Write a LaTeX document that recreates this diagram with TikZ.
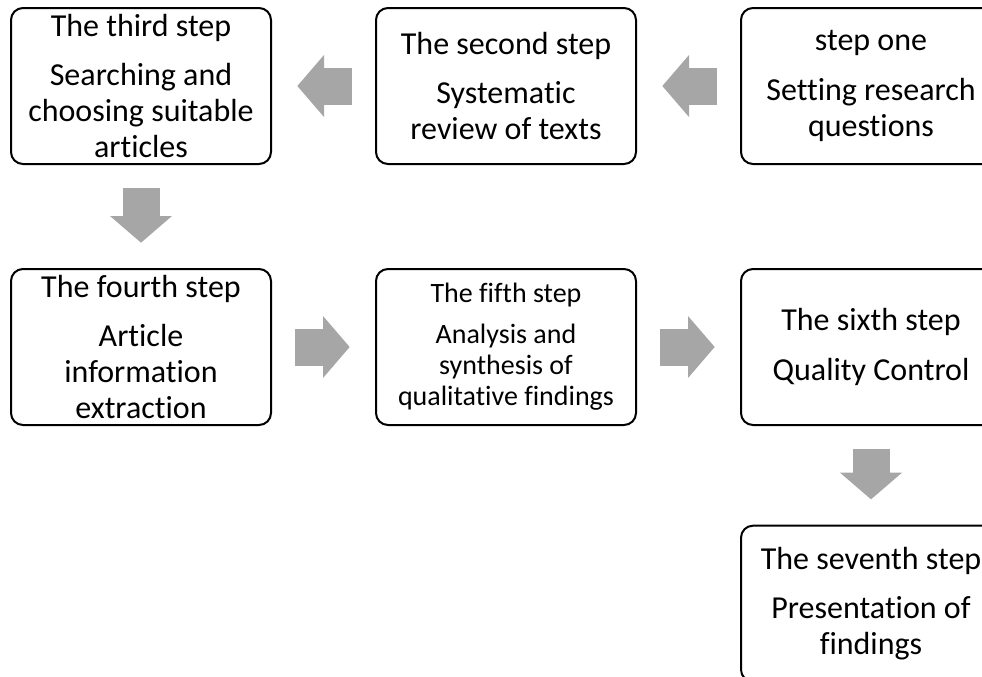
\documentclass[tikz,border=0pt]{standalone}
\usepackage{fontspec}
\setmainfont{Carlito}[Ligatures=CommonOff]
\usepackage{tikz}
\usetikzlibrary{arrows.meta,positioning}

\begin{document}
\begin{tikzpicture}[
  node distance=77.25pt,
  stepbox/.style={draw, line width=1.5pt, rounded corners=9pt, minimum width=195pt,
                  minimum height=117pt, align=center, inner sep=0pt,
                  font=\fontsize{24}{27}\selectfont},
  flow/.style={draw=black!35, line width=27.75pt, shorten <=17pt, shorten >=19pt,
               -{Triangle[length=20pt, width=46.5pt, line width=0pt]}},
]
\useasboundingbox (0,0) rectangle (736.5pt,-507pt);
\node[stepbox, anchor=north west] (third) at (7.5pt,-5.25pt)
  {The third step\\[10pt]Searching and\\choosing suitable\\articles};
\node[stepbox, right=of third] (second) {The second step\\[10pt]Systematic\\review of texts};
\node[stepbox, right=of second] (first) {step one\\[10pt]Setting research\\questions};
\node[stepbox, below=of third] (fourth) {The fourth step\\[10pt]Article\\information\\extraction};
\node[stepbox, right=of fourth, font=\fontsize{21}{23.5}\selectfont] (fifth)
  {The fifth step\\[7pt]Analysis and\\synthesis of\\qualitative findings};
\node[stepbox, right=of fifth] (sixth) {The sixth step\\[10pt]Quality Control};
\node[stepbox, below=74pt of sixth] (seventh) {The seventh step\\[10pt]Presentation of\\findings};
\draw[flow] (first) -- (second);
\draw[flow] (second) -- (third);
\draw[flow] (third) -- (fourth);
\draw[flow] (fourth) -- (fifth);
\draw[flow] (fifth) -- (sixth);
\draw[flow] (sixth) -- (seventh);
\end{tikzpicture}
\end{document}
